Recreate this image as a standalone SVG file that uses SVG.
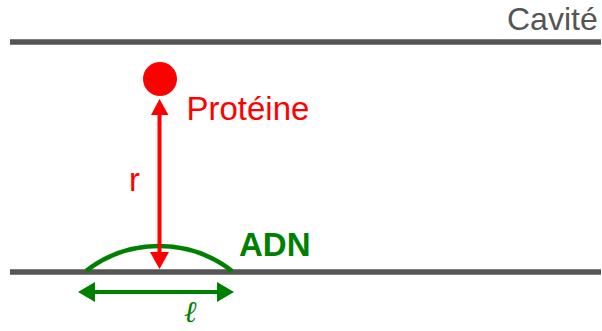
<svg xmlns="http://www.w3.org/2000/svg" width="602" height="331" viewBox="0 0 602 331">
<style>
.wall{stroke:#555;stroke-width:5.5;fill:none}
.red{fill:#f00}
.t{font-family:"Liberation Sans",Arial,sans-serif;font-size:33px}
</style>
<g id="cavite">
<line class="wall" x1="10" y1="42" x2="601" y2="42"/>
<line class="wall" x1="10" y1="272" x2="601" y2="272"/>
<text class="t" x="507" y="30" fill="#555" style="font-size:32px">Cavité</text>
</g>
<g id="adn">
<path d="M86,271 A119,119 0 0 1 232,271" stroke="#008000" stroke-width="4.5" fill="none"/>
<text class="t" x="239" y="256" font-weight="bold" fill="#008000">ADN</text>
</g>
<g id="proteine">
<circle class="red" cx="160" cy="79" r="17"/>
<text class="t" x="186.5" y="120" fill="#f00">Protéine</text>
</g>
<g id="connectors">
<line x1="159.5" y1="115" x2="159.5" y2="252" stroke="#f00" stroke-width="4"/>
<path d="M151,115L159.5,99L168.5,115Z" fill="#f00"/>
<path d="M150,252L159.5,269L169,252Z" fill="#f00"/>
<line x1="95" y1="292" x2="217" y2="292" stroke="#008000" stroke-width="4"/>
<path d="M95,282L78,292L95,302Z" fill="#008000"/>
<path d="M217,282L234,292L217,302Z" fill="#008000"/>
</g>
<text class="t" x="129" y="191" fill="#f00">r</text>
<text x="184" y="322" font-family="'DejaVu Serif',serif" font-style="italic" font-size="30" fill="#008000">ℓ</text>
</svg>
